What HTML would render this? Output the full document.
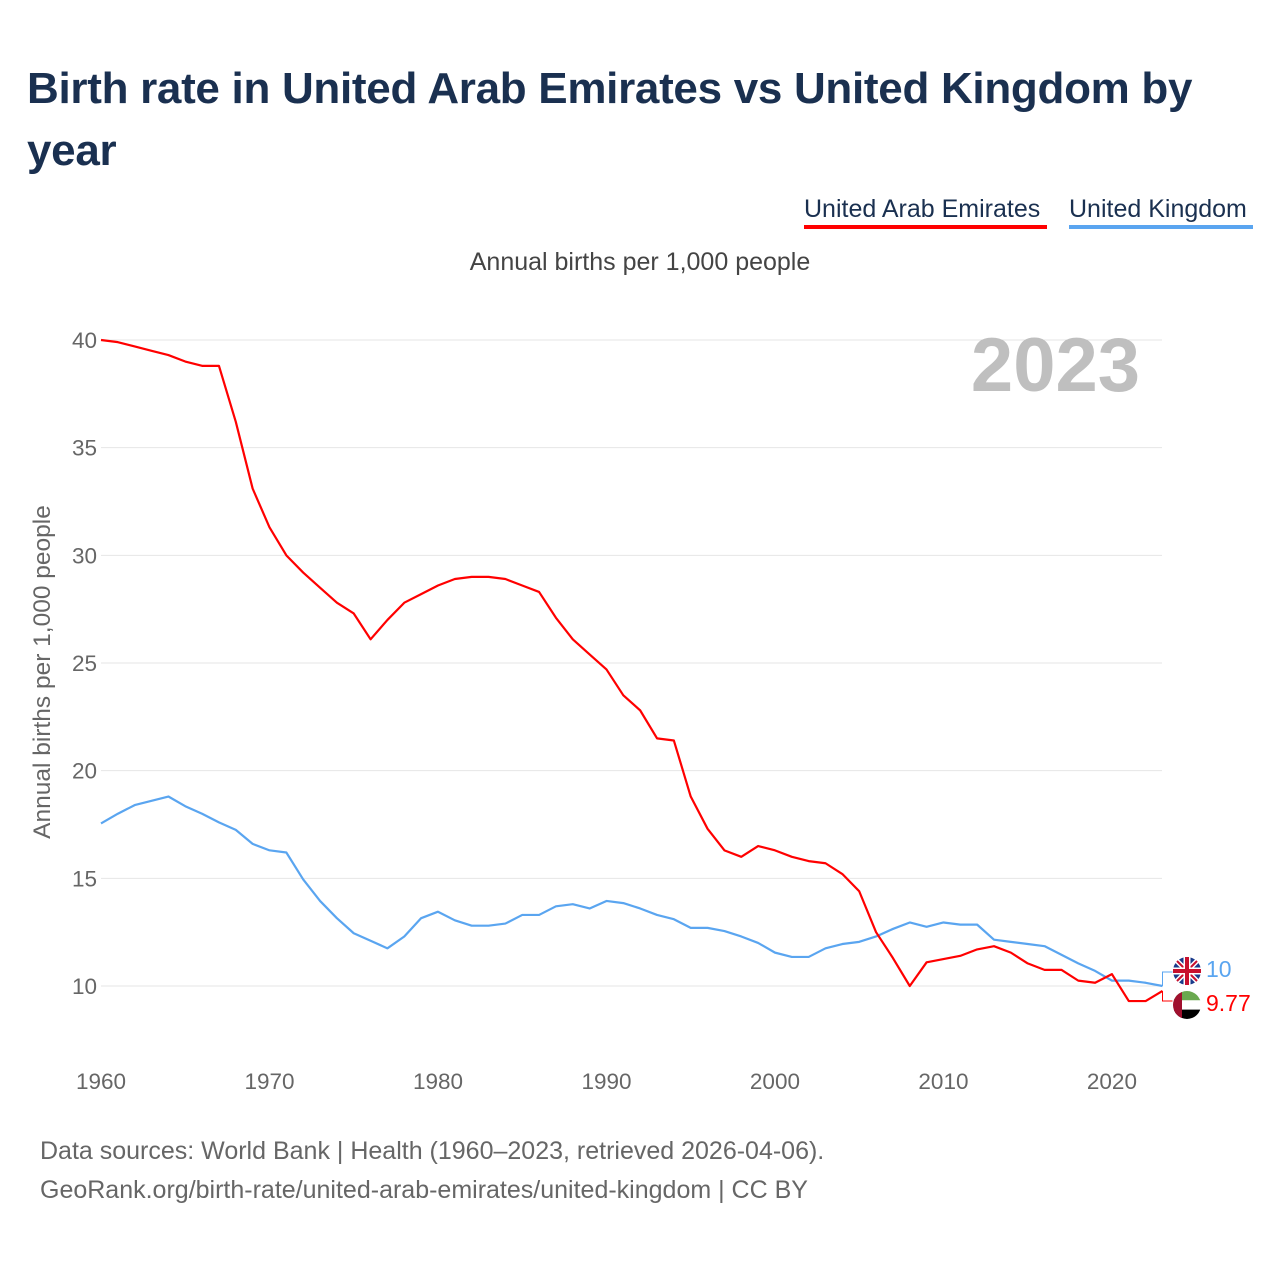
<!DOCTYPE html>
<html><head><meta charset="utf-8"><style>
body{margin:0;background:#fff;font-family:"Liberation Sans",sans-serif;}
#wrap{position:relative;width:1280px;height:1280px;overflow:hidden;}
h1{position:absolute;left:27px;top:58px;margin:0;width:1230px;font-size:44px;line-height:62px;color:#1a3050;font-weight:bold;letter-spacing:-0.3px;}
.leg{position:absolute;top:195px;font-size:25px;color:#1a3050;padding-bottom:1px;}
.src{position:absolute;left:40px;font-size:25px;color:#666;}
</style></head><body>
<div id="wrap">
<h1>Birth rate in United Arab Emirates vs United Kingdom by year</h1>
<div class="leg" style="left:804px;width:243px;border-bottom:4px solid #ff0000;white-space:nowrap">United Arab Emirates</div>
<div class="leg" style="left:1069px;width:184px;border-bottom:4px solid #5aa5f0;white-space:nowrap">United Kingdom</div>
<svg id="chart" width="1280" height="1280" style="position:absolute;left:0;top:0"></svg>
<div class="src" style="top:1137px">Data sources: World Bank | Health (1960–2023, retrieved 2026-04-06).</div>
<div class="src" style="top:1176px">GeoRank.org/birth-rate/united-arab-emirates/united-kingdom | CC BY</div>
</div>
<script>
const years=[];for(let y=1960;y<=2023;y++)years.push(y);
const uae=[40,39.9,39.7,39.5,39.3,39.0,38.8,38.8,36.2,33.1,31.3,30.0,29.2,28.5,27.8,27.3,26.1,27.0,27.8,28.2,28.6,28.9,29.0,29.0,28.9,28.6,28.3,27.1,26.1,25.4,24.7,23.5,22.8,21.5,21.4,18.8,17.3,16.3,16.0,16.5,16.3,16.0,15.8,15.7,15.2,14.4,12.5,11.3,10.0,11.1,11.25,11.4,11.7,11.85,11.55,11.05,10.75,10.75,10.25,10.15,10.55,9.3,9.3,9.77];
const uk=[17.55,18.0,18.4,18.6,18.8,18.35,18.0,17.6,17.25,16.6,16.3,16.2,14.95,13.95,13.15,12.45,12.1,11.75,12.3,13.15,13.45,13.05,12.8,12.8,12.9,13.3,13.3,13.7,13.8,13.6,13.95,13.85,13.6,13.3,13.1,12.7,12.7,12.55,12.3,12.0,11.55,11.35,11.35,11.75,11.95,12.05,12.3,12.65,12.95,12.75,12.95,12.85,12.85,12.15,12.05,11.95,11.85,11.45,11.05,10.7,10.25,10.25,10.15,10.0];
const yTicks=[10,15,20,25,30,35,40];
const xTicks=[1960,1970,1980,1990,2000,2010,2020];
const NS="http://www.w3.org/2000/svg";
const svg=document.getElementById('chart');
const X=y=>101+(y-1960)*(1162.5-101)/63;
const Y=v=>986-(v-10)*(986-340)/30;
function el(t,a,txt){const e=document.createElementNS(NS,t);for(const k in a)e.setAttribute(k,a[k]);if(txt!==undefined)e.textContent=txt;svg.appendChild(e);return e;}
yTicks.forEach(v=>{
 const g=el('line',{x1:101,x2:1162,y1:Y(v),y2:Y(v),stroke:'#e6e6e6','stroke-width':1});
 
 
 const t=el('text',{x:97,y:Y(v)+8,'text-anchor':'end','font-size':22.5,fill:'#666'},v);
 
 
});
xTicks.forEach(v=>{
 const t=el('text',{x:X(v),y:1089,'text-anchor':'middle','font-size':22.5,fill:'#666'},v);
 
 
});
const yt=el('text',{transform:'translate(50,672) rotate(-90)','text-anchor':'middle','font-size':24.5,fill:'#666'},'Annual births per 1,000 people');


const st=el('text',{x:640,y:270,'text-anchor':'middle','font-size':25,fill:'#444'},'Annual births per 1,000 people');


const yr=el('text',{x:1140,y:391,'text-anchor':'end','font-size':76,'font-weight':'bold',fill:'#bfbfbf'},'2023');


function line(data,color,name){
 const p=el('polyline',{points:data.map((v,i)=>X(years[i])+','+Y(v)).join(' '),fill:'none',stroke:color,'stroke-width':2.2,'stroke-linejoin':'round'});
 
 
}
line(uk,'#5aa5f0','uk-line');
line(uae,'#ff0000','uae-line');
const lx=X(2023);
const ukY=Y(uk[uk.length-1]), uaY=Y(uae[uae.length-1]);
el('path',{d:`M${lx} ${ukY} v-14 h10`,fill:'none',stroke:'#5aa5f0','stroke-width':1});
el('path',{d:`M${lx} ${uaY} v10 h10`,fill:'none',stroke:'#ff0000','stroke-width':1});
el('circle',{cx:1187,cy:971,r:14,fill:'#1a3a8a'});
el('path',{d:'M1177 961 L1197 981 M1197 961 L1177 981',stroke:'#fff','stroke-width':5});
el('path',{d:'M1177 961 L1197 981 M1197 961 L1177 981',stroke:'#c8102e','stroke-width':2});
el('path',{d:'M1187 957 V985 M1173 971 H1201',stroke:'#fff','stroke-width':7});
el('path',{d:'M1187 957 V985 M1173 971 H1201',stroke:'#c8102e','stroke-width':4});
el('clipPath',{id:'c2'});
const cp=document.createElementNS(NS,'circle');cp.setAttribute('cx',1187);cp.setAttribute('cy',1005);cp.setAttribute('r',14);svg.lastChild.appendChild(cp);
const g2=el('g',{'clip-path':'url(#c2)'});


[['#6aa84f',991],['#fff',1000.3],['#000',1009.6]].forEach(([c,y])=>{const r=document.createElementNS(NS,'rect');r.setAttribute('x',1173);r.setAttribute('y',y);r.setAttribute('width',28);r.setAttribute('height',9.4);r.setAttribute('fill',c);g2.appendChild(r);});
const rr=document.createElementNS(NS,'rect');rr.setAttribute('x',1173);rr.setAttribute('y',991);rr.setAttribute('width',9);rr.setAttribute('height',28);rr.setAttribute('fill','#a0102e');g2.appendChild(rr);
const v1=el('text',{x:1206,y:977,'font-size':23,fill:'#5aa5f0'},uk[uk.length-1]);


const v2=el('text',{x:1206,y:1011,'font-size':23,fill:'#ff0000'},uae[uae.length-1]);


</script>
</body></html>
